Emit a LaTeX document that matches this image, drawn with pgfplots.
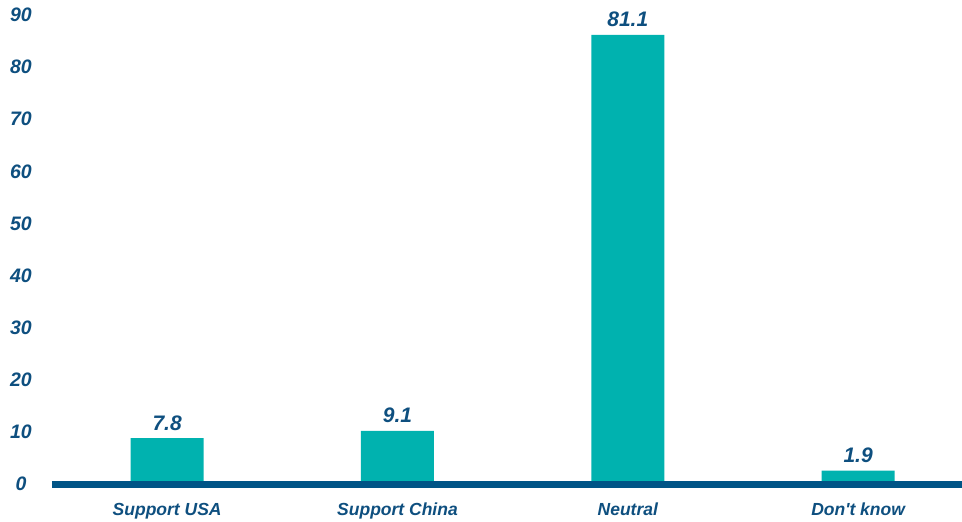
\documentclass[border=0pt]{standalone}
\usepackage{pgfplots}
\pgfplotsset{compat=1.18}
\usepackage{fontspec}
\setmainfont{Liberation Sans}
\definecolor{barteal}{HTML}{00B2AF}
\definecolor{txtblue}{HTML}{0E4F7F}
\definecolor{lineblue}{HTML}{005486}
\begin{document}
\begin{tikzpicture}
\begin{axis}[
  at={(0,0)}, anchor=south west,
  scale only axis, width=910pt, height=484.5pt,
  xmin=-0.5, xmax=3.451, ymin=-0.636, ymax=87.45,
  axis line style={draw=none},
  major tick length=0pt,
  xtick={0,1,2,3},
  xticklabels={Support USA, Support China, Neutral, Don\textquotesingle t know},
  ytick={-0.545,8.93,18.4,27.88,37.35,46.83,56.3,65.78,75.25,84.73},
  yticklabels={0,10,20,30,40,50,60,70,80,90},
  xticklabel style={anchor=base, yshift=-31.5pt, inner sep=0pt, font=\fontsize{17.5}{20}\selectfont\bfseries\itshape, text=txtblue},
  yticklabel style={anchor=center, xshift=-31pt, inner sep=0pt, font=\fontsize{19.5}{22}\selectfont\bfseries\itshape, text=txtblue},
  /pgf/number format/assume math mode=true,
  ybar, bar width=73pt,
  nodes near coords,
  nodes near coords style={anchor=base, yshift=8pt, inner sep=0pt, font=\fontsize{21}{24}\selectfont\bfseries\itshape, text=txtblue, /pgf/number format/fixed, /pgf/number format/precision=1, /pgf/number format/fixed zerofill},
  clip=false,
]
\addplot[fill=barteal, draw=none] coordinates {(0,7.8) (1,9.1) (2,81.1) (3,1.9)};
\draw[line width=7pt, lineblue] (rel axis cs:0,0) -- (rel axis cs:1,0);
\end{axis}
\pgfresetboundingbox
\path (-52pt,-37.5pt) rectangle (910pt,484.5pt);
\end{tikzpicture}
\end{document}
